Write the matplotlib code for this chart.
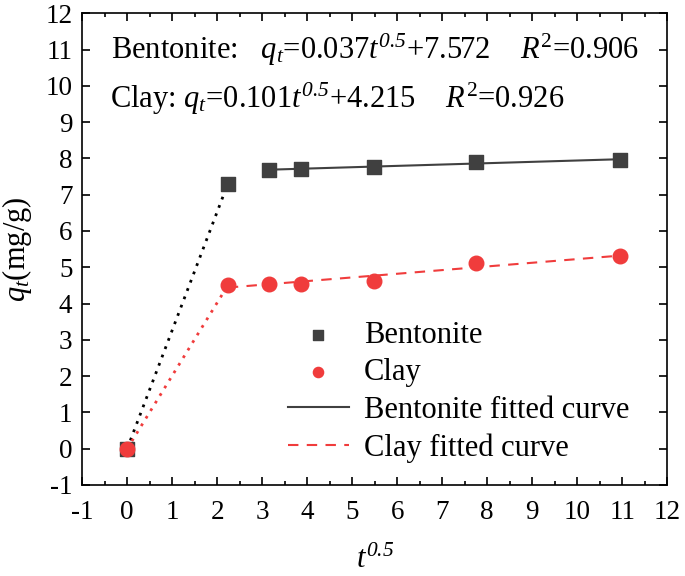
import matplotlib
matplotlib.use("Agg")
import matplotlib.pyplot as plt
import numpy as np
from matplotlib.ticker import MultipleLocator

plt.rcParams['font.family'] = ['Liberation Serif', 'DejaVu Serif']
plt.rcParams['mathtext.fontset'] = 'custom'
plt.rcParams['mathtext.rm'] = 'Liberation Serif'
plt.rcParams['mathtext.it'] = 'Liberation Serif:italic'
# exponente en cursiva (los dígitos en mathtext salen rectos)
plt.rcParams['mathtext.sf'] = 'Liberation Serif:italic'
plt.rcParams['axes.unicode_minus'] = False

# Datos
t05 = [0, 2.236, 3.162, 3.873, 5.477, 7.746, 10.954]
bentonita = [0, 7.30, 7.68, 7.70, 7.75, 7.90, 7.95]
arcilla = [0, 4.50, 4.55, 4.55, 4.62, 5.12, 5.30]

# Parámetros de ajuste (pendiente, ordenada)
ajuste_bent = (0.037, 7.572)
ajuste_arc = (0.101, 4.215)

gris = '#404040'
rojo = '#f03c3c'

fig = plt.figure(figsize=(6.85, 5.76), dpi=100)
ax = fig.add_axes([0.12, 0.158, 0.854, 0.819])

# Tramos iniciales punteados
ax.plot(t05[:2], bentonita[:2], color='black', lw=2, dashes=(1, 2.2))
ax.plot(t05[:2], arcilla[:2], color=rojo, lw=2, dashes=(1, 2.2))

# Rectas ajustadas
xb = np.array([t05[2], t05[-1]])
ax.plot(xb, ajuste_bent[0] * xb + ajuste_bent[1], '-', color=gris, lw=1.5,
        label='Bentonite fitted curve', zorder=2)
xa = np.array([t05[1], t05[-1]])
ax.plot(xa, ajuste_arc[0] * xa + ajuste_arc[1], '--', color=rojo, lw=1.5,
        dashes=(5, 4), label='Clay fitted curve', zorder=2)

ax.scatter(t05, bentonita, marker='s', s=90, color=gris, label='Bentonite', zorder=3)
ax.scatter(t05, arcilla, marker='o', s=110, color=rojo, label='Clay', zorder=4)

ax.set_xlim(-1, 12)
ax.set_ylim(-1, 12)
ax.xaxis.set_major_locator(MultipleLocator(1))
ax.xaxis.set_minor_locator(MultipleLocator(0.5))
ax.yaxis.set_major_locator(MultipleLocator(1))
ax.tick_params(which='both', direction='in', top=True, right=True, labelsize=19.5)
ax.tick_params(which='major', length=6, width=1.2)
ax.tick_params(which='minor', length=3, width=1.2)
ax.tick_params(axis='x', which='major', pad=11)
ax.tick_params(axis='y', which='major', pad=7)
for s in ax.spines.values():
    s.set_linewidth(1.2)

ax.set_xlabel(r'$t^{\mathsf{0.5}}$', fontsize=22, labelpad=15)
ax.set_ylabel(r'$q_t$(mg/g)', fontsize=22, labelpad=8)

ax.text(-0.35, 11.0, r'Bentonite:   $q_t$=0.037$t^{\mathsf{0.5}}$+7.572    $R^2$=0.906',
        fontsize=22, va='center')
ax.text(-0.38, 9.65, r'Clay: $q_t$=0.101$t^{\mathsf{0.5}}$+4.215    $R^2$=0.926',
        fontsize=22, va='center')

handles, labels = ax.get_legend_handles_labels()
orden = [labels.index(n) for n in ['Bentonite', 'Clay', 'Bentonite fitted curve', 'Clay fitted curve']]
ax.legend([handles[i] for i in orden], [labels[i] for i in orden],
          loc='upper left', bbox_to_anchor=(0.420, 0.443), bbox_transform=fig.transFigure,
          frameon=False, borderpad=0, borderaxespad=0,
          fontsize=22, handlelength=2.0, handletextpad=0.5, labelspacing=0.28,
          markerscale=0.7)

plt.savefig('out.png', dpi=100)
